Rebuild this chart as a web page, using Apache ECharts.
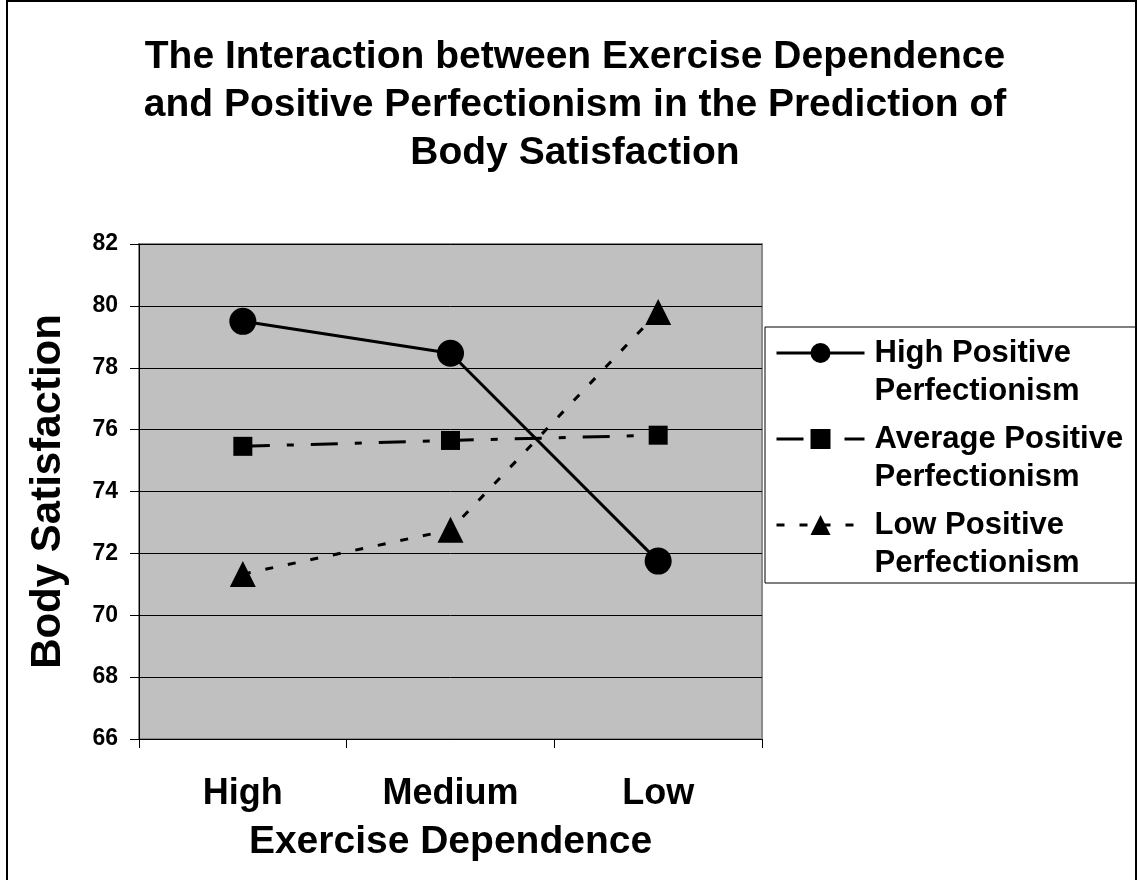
<!DOCTYPE html>
<html><head><meta charset="utf-8">
<script src="https://cdn.jsdelivr.net/npm/echarts@6/dist/echarts.min.js"></script>
<style>html,body{margin:0;padding:0;background:#fff}#c{width:1138px;height:880px}</style>
</head><body><div id="c"></div>
<script>
const titleText = 'The Interaction between Exercise Dependence\nand Positive Perfectionism in the Prediction of\nBody Satisfaction';
const categories = ['High', 'Medium', 'Low'];
const seriesNames = ['High Positive Perfectionism', 'Average Positive Perfectionism', 'Low Positive Perfectionism'];
const highPP = [79.5, 78.47, 71.75];
const avgPP = [75.46, 75.65, 75.82];
const lowPP = [71.33, 72.76, 79.8];
const yMin = 66, yMax = 82, yInterval = 2;
const xAxisTitle = 'Exercise Dependence';
const yAxisTitle = 'Body Satisfaction';

const FONT = '"Liberation Sans", Arial, Helvetica, sans-serif';
const chart = echarts.init(document.getElementById('c'), null, {renderer: 'canvas'});
chart.setOption({
  animation: false,
  backgroundColor: '#fff',
  title: {
    text: titleText, left: 575, top: 33, padding: 0, textAlign: 'center',
    textStyle: {fontFamily: FONT, fontSize: 39, fontWeight: 'bold', color: '#000', lineHeight: 48}
  },
  grid: {
    left: 139, top: 244, width: 623, height: 495, show: true,
    backgroundColor: '#c0c0c0', borderColor: '#8c8c8c', borderWidth: 2, containLabel: false
  },
  legend: {
    orient: 'vertical', left: 775, top: 296, padding: 0, itemGap: -28,
    itemWidth: 88, itemHeight: 25, selectedMode: false, z: 5,
    data: seriesNames,
    lineStyle: {width: 3},
    formatter: function (n) { return '\n' + n.replace(' Perfectionism', '\nPerfectionism'); },
    textStyle: {fontFamily: FONT, fontSize: 31, fontWeight: 'bold', color: '#000', lineHeight: 38, padding: [0, 0, 0, 5]}
  },
  xAxis: {
    type: 'category', data: categories, boundaryGap: true,
    name: xAxisTitle, nameLocation: 'middle', nameGap: 84,
    nameTextStyle: {fontFamily: FONT, fontSize: 39, fontWeight: 'bold', color: '#000'},
    axisLine: {show: true, lineStyle: {color: '#000', width: 1}},
    axisTick: {show: true, inside: false, length: 9, alignWithLabel: false, lineStyle: {color: '#000'}},
    axisLabel: {fontFamily: FONT, fontSize: 36, fontWeight: 'bold', color: '#000', margin: 37},
    splitLine: {show: false}
  },
  yAxis: {
    type: 'value', min: yMin, max: yMax, interval: yInterval,
    name: yAxisTitle, nameLocation: 'middle', nameGap: 70,
    nameTextStyle: {fontFamily: FONT, fontSize: 42, fontWeight: 'bold', color: '#000'},
    axisLine: {show: true, lineStyle: {color: '#000', width: 1}},
    axisTick: {show: true, inside: false, length: 9, lineStyle: {color: '#000'}},
    axisLabel: {fontFamily: FONT, fontSize: 23, fontWeight: 'bold', color: '#000', margin: 21},
    splitLine: {show: true, lineStyle: {color: '#000', width: 1}}
  },
  graphic: [
    {type: 'rect', z: 3, shape: {x: 765, y: 327, width: 371, height: 256},
     style: {fill: '#fff', stroke: '#000', lineWidth: 1}},
    {type: 'rect', z: 20, silent: true, shape: {x: 7, y: 1, width: 1129, height: 900},
     style: {fill: null, stroke: '#000', lineWidth: 2}}
  ],
  series: [
    {name: seriesNames[0], type: 'line', data: highPP, symbol: 'circle', symbolSize: 27,
     color: '#000', itemStyle: {color: '#000'}, lineStyle: {color: '#000', width: 3, type: 'solid'}, emphasis: {disabled: true}},
    {name: seriesNames[1], type: 'line', data: avgPP, symbol: 'rect', symbolSize: 19,
     color: '#000', itemStyle: {color: '#000'}, lineStyle: {color: '#000', width: 3, type: [27, 17, 7, 17]}, emphasis: {disabled: true}},
    {name: seriesNames[2], type: 'line', data: lowPP, symbol: 'triangle', symbolSize: 26,
     color: '#000', itemStyle: {color: '#000'}, lineStyle: {color: '#000', width: 3, type: [8, 15]}, emphasis: {disabled: true}}
  ]
});
</script></body></html>
